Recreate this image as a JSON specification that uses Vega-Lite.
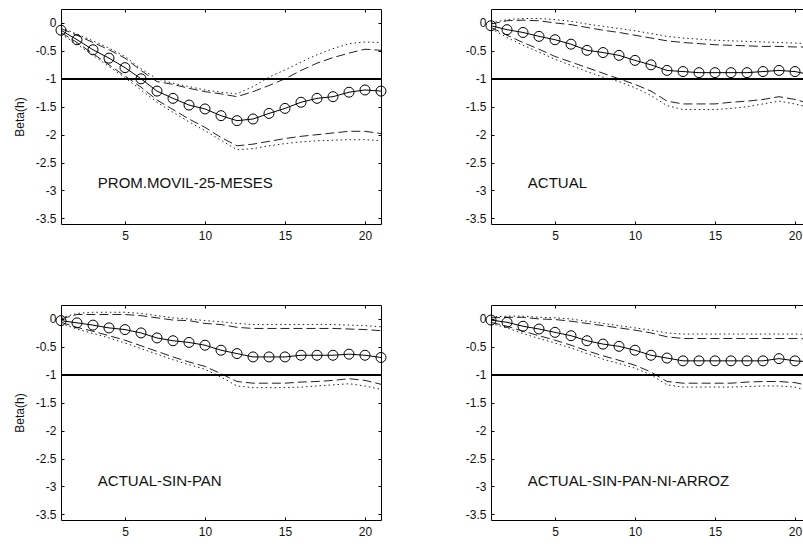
{
"$schema": "https://vega.github.io/schema/vega-lite/v6.json",
"background": "white",
"padding": {"left": 12, "top": 8, "right": 0, "bottom": 0},
"datasets": {"d": [
{"p":"PROM.MOVIL-25-MESES","h":1,"b":-0.13,"hi":-0.10,"hi2":-0.08,"lo":-0.17,"lo2":-0.20},
{"p":"PROM.MOVIL-25-MESES","h":2,"b":-0.30,"hi":-0.22,"hi2":-0.20,"lo":-0.35,"lo2":-0.38},
{"p":"PROM.MOVIL-25-MESES","h":3,"b":-0.48,"hi":-0.35,"hi2":-0.32,"lo":-0.55,"lo2":-0.58},
{"p":"PROM.MOVIL-25-MESES","h":4,"b":-0.63,"hi":-0.48,"hi2":-0.45,"lo":-0.75,"lo2":-0.78},
{"p":"PROM.MOVIL-25-MESES","h":5,"b":-0.80,"hi":-0.63,"hi2":-0.60,"lo":-0.95,"lo2":-0.98},
{"p":"PROM.MOVIL-25-MESES","h":6,"b":-1.00,"hi":-0.85,"hi2":-0.82,"lo":-1.15,"lo2":-1.20},
{"p":"PROM.MOVIL-25-MESES","h":7,"b":-1.22,"hi":-1.05,"hi2":-1.00,"lo":-1.38,"lo2":-1.42},
{"p":"PROM.MOVIL-25-MESES","h":8,"b":-1.35,"hi":-1.10,"hi2":-1.08,"lo":-1.55,"lo2":-1.60},
{"p":"PROM.MOVIL-25-MESES","h":9,"b":-1.47,"hi":-1.17,"hi2":-1.14,"lo":-1.72,"lo2":-1.77},
{"p":"PROM.MOVIL-25-MESES","h":10,"b":-1.54,"hi":-1.23,"hi2":-1.20,"lo":-1.87,"lo2":-1.93},
{"p":"PROM.MOVIL-25-MESES","h":11,"b":-1.66,"hi":-1.27,"hi2":-1.24,"lo":-2.05,"lo2":-2.10},
{"p":"PROM.MOVIL-25-MESES","h":12,"b":-1.75,"hi":-1.32,"hi2":-1.27,"lo":-2.20,"lo2":-2.27},
{"p":"PROM.MOVIL-25-MESES","h":13,"b":-1.72,"hi":-1.23,"hi2":-1.14,"lo":-2.17,"lo2":-2.25},
{"p":"PROM.MOVIL-25-MESES","h":14,"b":-1.62,"hi":-1.12,"hi2":-0.97,"lo":-2.12,"lo2":-2.20},
{"p":"PROM.MOVIL-25-MESES","h":15,"b":-1.53,"hi":-1.00,"hi2":-0.84,"lo":-2.07,"lo2":-2.16},
{"p":"PROM.MOVIL-25-MESES","h":16,"b":-1.42,"hi":-0.85,"hi2":-0.70,"lo":-2.03,"lo2":-2.13},
{"p":"PROM.MOVIL-25-MESES","h":17,"b":-1.35,"hi":-0.72,"hi2":-0.57,"lo":-2.00,"lo2":-2.11},
{"p":"PROM.MOVIL-25-MESES","h":18,"b":-1.32,"hi":-0.62,"hi2":-0.46,"lo":-1.97,"lo2":-2.10},
{"p":"PROM.MOVIL-25-MESES","h":19,"b":-1.24,"hi":-0.54,"hi2":-0.37,"lo":-1.94,"lo2":-2.09},
{"p":"PROM.MOVIL-25-MESES","h":20,"b":-1.20,"hi":-0.47,"hi2":-0.34,"lo":-1.94,"lo2":-2.09},
{"p":"PROM.MOVIL-25-MESES","h":21,"b":-1.22,"hi":-0.49,"hi2":-0.35,"lo":-1.98,"lo2":-2.11},
{"p":"ACTUAL","h":1,"b":-0.05,"hi":-0.02,"hi2":0.00,"lo":-0.08,"lo2":-0.10},
{"p":"ACTUAL","h":2,"b":-0.12,"hi":0.04,"hi2":0.06,"lo":-0.22,"lo2":-0.26},
{"p":"ACTUAL","h":3,"b":-0.17,"hi":0.05,"hi2":0.08,"lo":-0.35,"lo2":-0.40},
{"p":"ACTUAL","h":4,"b":-0.24,"hi":0.04,"hi2":0.08,"lo":-0.47,"lo2":-0.52},
{"p":"ACTUAL","h":5,"b":-0.30,"hi":0.00,"hi2":0.06,"lo":-0.60,"lo2":-0.65},
{"p":"ACTUAL","h":6,"b":-0.38,"hi":-0.03,"hi2":0.03,"lo":-0.70,"lo2":-0.76},
{"p":"ACTUAL","h":7,"b":-0.49,"hi":-0.08,"hi2":-0.02,"lo":-0.80,"lo2":-0.87},
{"p":"ACTUAL","h":8,"b":-0.53,"hi":-0.13,"hi2":-0.06,"lo":-0.90,"lo2":-0.97},
{"p":"ACTUAL","h":9,"b":-0.58,"hi":-0.17,"hi2":-0.10,"lo":-1.00,"lo2":-1.05},
{"p":"ACTUAL","h":10,"b":-0.67,"hi":-0.22,"hi2":-0.14,"lo":-1.10,"lo2":-1.16},
{"p":"ACTUAL","h":11,"b":-0.75,"hi":-0.27,"hi2":-0.19,"lo":-1.22,"lo2":-1.30},
{"p":"ACTUAL","h":12,"b":-0.85,"hi":-0.32,"hi2":-0.24,"lo":-1.40,"lo2":-1.48},
{"p":"ACTUAL","h":13,"b":-0.87,"hi":-0.35,"hi2":-0.27,"lo":-1.45,"lo2":-1.55},
{"p":"ACTUAL","h":14,"b":-0.89,"hi":-0.37,"hi2":-0.29,"lo":-1.45,"lo2":-1.55},
{"p":"ACTUAL","h":15,"b":-0.89,"hi":-0.39,"hi2":-0.31,"lo":-1.45,"lo2":-1.55},
{"p":"ACTUAL","h":16,"b":-0.89,"hi":-0.40,"hi2":-0.32,"lo":-1.42,"lo2":-1.53},
{"p":"ACTUAL","h":17,"b":-0.89,"hi":-0.41,"hi2":-0.33,"lo":-1.40,"lo2":-1.50},
{"p":"ACTUAL","h":18,"b":-0.87,"hi":-0.42,"hi2":-0.34,"lo":-1.37,"lo2":-1.45},
{"p":"ACTUAL","h":19,"b":-0.85,"hi":-0.42,"hi2":-0.35,"lo":-1.32,"lo2":-1.40},
{"p":"ACTUAL","h":20,"b":-0.87,"hi":-0.43,"hi2":-0.36,"lo":-1.37,"lo2":-1.45},
{"p":"ACTUAL","h":21,"b":-0.93,"hi":-0.43,"hi2":-0.37,"lo":-1.45,"lo2":-1.52},
{"p":"ACTUAL-SIN-PAN","h":1,"b":-0.03,"hi":0.00,"hi2":0.02,"lo":-0.06,"lo2":-0.08},
{"p":"ACTUAL-SIN-PAN","h":2,"b":-0.07,"hi":0.08,"hi2":0.10,"lo":-0.15,"lo2":-0.18},
{"p":"ACTUAL-SIN-PAN","h":3,"b":-0.11,"hi":0.08,"hi2":0.12,"lo":-0.22,"lo2":-0.26},
{"p":"ACTUAL-SIN-PAN","h":4,"b":-0.16,"hi":0.08,"hi2":0.12,"lo":-0.30,"lo2":-0.34},
{"p":"ACTUAL-SIN-PAN","h":5,"b":-0.19,"hi":0.08,"hi2":0.12,"lo":-0.38,"lo2":-0.43},
{"p":"ACTUAL-SIN-PAN","h":6,"b":-0.25,"hi":0.06,"hi2":0.10,"lo":-0.48,"lo2":-0.53},
{"p":"ACTUAL-SIN-PAN","h":7,"b":-0.34,"hi":0.02,"hi2":0.06,"lo":-0.58,"lo2":-0.63},
{"p":"ACTUAL-SIN-PAN","h":8,"b":-0.39,"hi":-0.02,"hi2":0.02,"lo":-0.68,"lo2":-0.73},
{"p":"ACTUAL-SIN-PAN","h":9,"b":-0.42,"hi":-0.03,"hi2":0.00,"lo":-0.77,"lo2":-0.82},
{"p":"ACTUAL-SIN-PAN","h":10,"b":-0.47,"hi":-0.08,"hi2":-0.03,"lo":-0.85,"lo2":-0.90},
{"p":"ACTUAL-SIN-PAN","h":11,"b":-0.56,"hi":-0.10,"hi2":-0.05,"lo":-0.98,"lo2":-1.04},
{"p":"ACTUAL-SIN-PAN","h":12,"b":-0.62,"hi":-0.15,"hi2":-0.08,"lo":-1.12,"lo2":-1.20},
{"p":"ACTUAL-SIN-PAN","h":13,"b":-0.68,"hi":-0.17,"hi2":-0.10,"lo":-1.15,"lo2":-1.23},
{"p":"ACTUAL-SIN-PAN","h":14,"b":-0.68,"hi":-0.17,"hi2":-0.10,"lo":-1.15,"lo2":-1.23},
{"p":"ACTUAL-SIN-PAN","h":15,"b":-0.68,"hi":-0.17,"hi2":-0.10,"lo":-1.15,"lo2":-1.23},
{"p":"ACTUAL-SIN-PAN","h":16,"b":-0.65,"hi":-0.17,"hi2":-0.10,"lo":-1.13,"lo2":-1.22},
{"p":"ACTUAL-SIN-PAN","h":17,"b":-0.65,"hi":-0.17,"hi2":-0.10,"lo":-1.12,"lo2":-1.20},
{"p":"ACTUAL-SIN-PAN","h":18,"b":-0.65,"hi":-0.17,"hi2":-0.10,"lo":-1.10,"lo2":-1.18},
{"p":"ACTUAL-SIN-PAN","h":19,"b":-0.63,"hi":-0.18,"hi2":-0.11,"lo":-1.07,"lo2":-1.16},
{"p":"ACTUAL-SIN-PAN","h":20,"b":-0.65,"hi":-0.19,"hi2":-0.12,"lo":-1.10,"lo2":-1.20},
{"p":"ACTUAL-SIN-PAN","h":21,"b":-0.69,"hi":-0.21,"hi2":-0.14,"lo":-1.17,"lo2":-1.26},
{"p":"ACTUAL-SIN-PAN-NI-ARROZ","h":1,"b":-0.02,"hi":0.02,"hi2":0.04,"lo":-0.06,"lo2":-0.08},
{"p":"ACTUAL-SIN-PAN-NI-ARROZ","h":2,"b":-0.06,"hi":0.03,"hi2":0.05,"lo":-0.13,"lo2":-0.16},
{"p":"ACTUAL-SIN-PAN-NI-ARROZ","h":3,"b":-0.13,"hi":0.03,"hi2":0.05,"lo":-0.22,"lo2":-0.26},
{"p":"ACTUAL-SIN-PAN-NI-ARROZ","h":4,"b":-0.18,"hi":0.00,"hi2":0.03,"lo":-0.30,"lo2":-0.35},
{"p":"ACTUAL-SIN-PAN-NI-ARROZ","h":5,"b":-0.24,"hi":-0.01,"hi2":0.02,"lo":-0.38,"lo2":-0.43},
{"p":"ACTUAL-SIN-PAN-NI-ARROZ","h":6,"b":-0.30,"hi":-0.04,"hi2":0.00,"lo":-0.47,"lo2":-0.52},
{"p":"ACTUAL-SIN-PAN-NI-ARROZ","h":7,"b":-0.39,"hi":-0.08,"hi2":-0.04,"lo":-0.57,"lo2":-0.62},
{"p":"ACTUAL-SIN-PAN-NI-ARROZ","h":8,"b":-0.45,"hi":-0.12,"hi2":-0.08,"lo":-0.66,"lo2":-0.72},
{"p":"ACTUAL-SIN-PAN-NI-ARROZ","h":9,"b":-0.49,"hi":-0.16,"hi2":-0.12,"lo":-0.74,"lo2":-0.80},
{"p":"ACTUAL-SIN-PAN-NI-ARROZ","h":10,"b":-0.56,"hi":-0.20,"hi2":-0.16,"lo":-0.83,"lo2":-0.88},
{"p":"ACTUAL-SIN-PAN-NI-ARROZ","h":11,"b":-0.65,"hi":-0.25,"hi2":-0.20,"lo":-0.95,"lo2":-1.00},
{"p":"ACTUAL-SIN-PAN-NI-ARROZ","h":12,"b":-0.70,"hi":-0.32,"hi2":-0.25,"lo":-1.12,"lo2":-1.18},
{"p":"ACTUAL-SIN-PAN-NI-ARROZ","h":13,"b":-0.75,"hi":-0.35,"hi2":-0.27,"lo":-1.15,"lo2":-1.22},
{"p":"ACTUAL-SIN-PAN-NI-ARROZ","h":14,"b":-0.75,"hi":-0.35,"hi2":-0.27,"lo":-1.15,"lo2":-1.22},
{"p":"ACTUAL-SIN-PAN-NI-ARROZ","h":15,"b":-0.75,"hi":-0.35,"hi2":-0.27,"lo":-1.15,"lo2":-1.22},
{"p":"ACTUAL-SIN-PAN-NI-ARROZ","h":16,"b":-0.75,"hi":-0.35,"hi2":-0.27,"lo":-1.15,"lo2":-1.22},
{"p":"ACTUAL-SIN-PAN-NI-ARROZ","h":17,"b":-0.75,"hi":-0.35,"hi2":-0.27,"lo":-1.13,"lo2":-1.21},
{"p":"ACTUAL-SIN-PAN-NI-ARROZ","h":18,"b":-0.75,"hi":-0.35,"hi2":-0.27,"lo":-1.12,"lo2":-1.20},
{"p":"ACTUAL-SIN-PAN-NI-ARROZ","h":19,"b":-0.71,"hi":-0.35,"hi2":-0.27,"lo":-1.12,"lo2":-1.20},
{"p":"ACTUAL-SIN-PAN-NI-ARROZ","h":20,"b":-0.75,"hi":-0.35,"hi2":-0.27,"lo":-1.14,"lo2":-1.22},
{"p":"ACTUAL-SIN-PAN-NI-ARROZ","h":21,"b":-0.77,"hi":-0.36,"hi2":-0.28,"lo":-1.20,"lo2":-1.30}
]},
"spacing": 62,
"vconcat": [
{"spacing": 75, "hconcat": [
{"width": 320, "height": 215, "data": {"name": "d"}, "transform": [{"filter": {"field": "p", "equal": "PROM.MOVIL-25-MESES"}}],
 "layer": [
  {"mark": {"type": "line", "stroke": "#222", "strokeWidth": 1, "strokeDash": [1.5, 3]}, "encoding": {"x": {"field": "h", "type": "quantitative", "scale": {"domain": [1, 21], "nice": false, "zero": false}, "axis": {"orient": "top", "values": [5, 10, 15, 20], "labels": false, "tickSize": -3, "title": null}}, "y": {"field": "hi2", "type": "quantitative", "scale": {"domain": [-3.6, 0.25], "nice": false, "zero": false}, "axis": {"orient": "right", "values": [0, -0.5, -1, -1.5, -2, -2.5, -3, -3.5], "labels": false, "tickSize": -3, "title": null}}}},
  {"mark": {"type": "line", "stroke": "#222", "strokeWidth": 1, "strokeDash": [1.5, 3]}, "encoding": {"x": {"field": "h", "type": "quantitative", "scale": {"domain": [1, 21], "nice": false, "zero": false}, "axis": null}, "y": {"field": "lo2", "type": "quantitative", "scale": {"domain": [-3.6, 0.25], "nice": false, "zero": false}, "axis": null}}},
  {"mark": {"type": "line", "stroke": "#222", "strokeWidth": 1, "strokeDash": [9, 4]}, "encoding": {"x": {"field": "h", "type": "quantitative", "scale": {"domain": [1, 21], "nice": false, "zero": false}, "axis": null}, "y": {"field": "hi", "type": "quantitative", "scale": {"domain": [-3.6, 0.25], "nice": false, "zero": false}, "axis": null}}},
  {"mark": {"type": "line", "stroke": "#222", "strokeWidth": 1, "strokeDash": [9, 4]}, "encoding": {"x": {"field": "h", "type": "quantitative", "scale": {"domain": [1, 21], "nice": false, "zero": false}, "axis": null}, "y": {"field": "lo", "type": "quantitative", "scale": {"domain": [-3.6, 0.25], "nice": false, "zero": false}, "axis": null}}},
  {"mark": {"type": "rule", "stroke": "black", "strokeWidth": 1}, "encoding": {"y": {"datum": -1, "type": "quantitative", "scale": {"domain": [-3.6, 0.25], "nice": false, "zero": false}, "axis": null}}},
  {"mark": {"type": "line", "stroke": "black", "strokeWidth": 1}, "encoding": {"x": {"field": "h", "type": "quantitative", "scale": {"domain": [1, 21], "nice": false, "zero": false}, "axis": {"orient": "bottom", "values": [5, 10, 15, 20], "tickSize": -3, "labelPadding": 9, "title": null}}, "y": {"field": "b", "type": "quantitative", "scale": {"domain": [-3.6, 0.25], "nice": false, "zero": false}, "axis": {"orient": "left", "values": [0, -0.5, -1, -1.5, -2, -2.5, -3, -3.5], "labelExpr": "'' + datum.value", "tickSize": -3, "labelPadding": 8, "title": "Beta(h)", "titlePadding": 9}}}},
  {"mark": {"type": "point", "shape": "circle", "filled": false, "stroke": "black", "strokeWidth": 1, "size": 100, "opacity": 1}, "encoding": {"x": {"field": "h", "type": "quantitative", "scale": {"domain": [1, 21], "nice": false, "zero": false}, "axis": null}, "y": {"field": "b", "type": "quantitative", "scale": {"domain": [-3.6, 0.25], "nice": false, "zero": false}, "axis": null}}},
  {"transform": [{"filter": "datum.h == 1"}], "mark": {"type": "text", "align": "left", "baseline": "middle", "fontSize": 15, "font": "Liberation Sans", "color": "#111"}, "encoding": {"x": {"datum": 3.3, "type": "quantitative", "scale": {"domain": [1, 21], "nice": false, "zero": false}, "axis": null}, "y": {"datum": -2.87, "type": "quantitative", "scale": {"domain": [-3.6, 0.25], "nice": false, "zero": false}, "axis": null}, "text": {"field": "p"}}}
 ],
 "resolve": {"axis": {"x": "independent", "y": "independent"}}},
{"width": 320, "height": 215, "data": {"name": "d"}, "transform": [{"filter": {"field": "p", "equal": "ACTUAL"}}],
 "layer": [
  {"mark": {"type": "line", "stroke": "#222", "strokeWidth": 1, "strokeDash": [1.5, 3]}, "encoding": {"x": {"field": "h", "type": "quantitative", "scale": {"domain": [1, 21], "nice": false, "zero": false}, "axis": {"orient": "top", "values": [5, 10, 15, 20], "labels": false, "tickSize": -3, "title": null}}, "y": {"field": "hi2", "type": "quantitative", "scale": {"domain": [-3.6, 0.25], "nice": false, "zero": false}, "axis": {"orient": "right", "values": [0, -0.5, -1, -1.5, -2, -2.5, -3, -3.5], "labels": false, "tickSize": -3, "title": null}}}},
  {"mark": {"type": "line", "stroke": "#222", "strokeWidth": 1, "strokeDash": [1.5, 3]}, "encoding": {"x": {"field": "h", "type": "quantitative", "scale": {"domain": [1, 21], "nice": false, "zero": false}, "axis": null}, "y": {"field": "lo2", "type": "quantitative", "scale": {"domain": [-3.6, 0.25], "nice": false, "zero": false}, "axis": null}}},
  {"mark": {"type": "line", "stroke": "#222", "strokeWidth": 1, "strokeDash": [9, 4]}, "encoding": {"x": {"field": "h", "type": "quantitative", "scale": {"domain": [1, 21], "nice": false, "zero": false}, "axis": null}, "y": {"field": "hi", "type": "quantitative", "scale": {"domain": [-3.6, 0.25], "nice": false, "zero": false}, "axis": null}}},
  {"mark": {"type": "line", "stroke": "#222", "strokeWidth": 1, "strokeDash": [9, 4]}, "encoding": {"x": {"field": "h", "type": "quantitative", "scale": {"domain": [1, 21], "nice": false, "zero": false}, "axis": null}, "y": {"field": "lo", "type": "quantitative", "scale": {"domain": [-3.6, 0.25], "nice": false, "zero": false}, "axis": null}}},
  {"mark": {"type": "rule", "stroke": "black", "strokeWidth": 1}, "encoding": {"y": {"datum": -1, "type": "quantitative", "scale": {"domain": [-3.6, 0.25], "nice": false, "zero": false}, "axis": null}}},
  {"mark": {"type": "line", "stroke": "black", "strokeWidth": 1}, "encoding": {"x": {"field": "h", "type": "quantitative", "scale": {"domain": [1, 21], "nice": false, "zero": false}, "axis": {"orient": "bottom", "values": [5, 10, 15, 20], "tickSize": -3, "labelPadding": 9, "title": null}}, "y": {"field": "b", "type": "quantitative", "scale": {"domain": [-3.6, 0.25], "nice": false, "zero": false}, "axis": {"orient": "left", "values": [0, -0.5, -1, -1.5, -2, -2.5, -3, -3.5], "labelExpr": "'' + datum.value", "tickSize": -3, "labelPadding": 8, "title": null}}}},
  {"mark": {"type": "point", "shape": "circle", "filled": false, "stroke": "black", "strokeWidth": 1, "size": 100, "opacity": 1}, "encoding": {"x": {"field": "h", "type": "quantitative", "scale": {"domain": [1, 21], "nice": false, "zero": false}, "axis": null}, "y": {"field": "b", "type": "quantitative", "scale": {"domain": [-3.6, 0.25], "nice": false, "zero": false}, "axis": null}}},
  {"transform": [{"filter": "datum.h == 1"}], "mark": {"type": "text", "align": "left", "baseline": "middle", "fontSize": 15, "font": "Liberation Sans", "color": "#111"}, "encoding": {"x": {"datum": 3.3, "type": "quantitative", "scale": {"domain": [1, 21], "nice": false, "zero": false}, "axis": null}, "y": {"datum": -2.87, "type": "quantitative", "scale": {"domain": [-3.6, 0.25], "nice": false, "zero": false}, "axis": null}, "text": {"field": "p"}}}
 ],
 "resolve": {"axis": {"x": "independent", "y": "independent"}}}
]},
{"spacing": 75, "hconcat": [
{"width": 320, "height": 215, "data": {"name": "d"}, "transform": [{"filter": {"field": "p", "equal": "ACTUAL-SIN-PAN"}}],
 "layer": [
  {"mark": {"type": "line", "stroke": "#222", "strokeWidth": 1, "strokeDash": [1.5, 3]}, "encoding": {"x": {"field": "h", "type": "quantitative", "scale": {"domain": [1, 21], "nice": false, "zero": false}, "axis": {"orient": "top", "values": [5, 10, 15, 20], "labels": false, "tickSize": -3, "title": null}}, "y": {"field": "hi2", "type": "quantitative", "scale": {"domain": [-3.6, 0.25], "nice": false, "zero": false}, "axis": {"orient": "right", "values": [0, -0.5, -1, -1.5, -2, -2.5, -3, -3.5], "labels": false, "tickSize": -3, "title": null}}}},
  {"mark": {"type": "line", "stroke": "#222", "strokeWidth": 1, "strokeDash": [1.5, 3]}, "encoding": {"x": {"field": "h", "type": "quantitative", "scale": {"domain": [1, 21], "nice": false, "zero": false}, "axis": null}, "y": {"field": "lo2", "type": "quantitative", "scale": {"domain": [-3.6, 0.25], "nice": false, "zero": false}, "axis": null}}},
  {"mark": {"type": "line", "stroke": "#222", "strokeWidth": 1, "strokeDash": [9, 4]}, "encoding": {"x": {"field": "h", "type": "quantitative", "scale": {"domain": [1, 21], "nice": false, "zero": false}, "axis": null}, "y": {"field": "hi", "type": "quantitative", "scale": {"domain": [-3.6, 0.25], "nice": false, "zero": false}, "axis": null}}},
  {"mark": {"type": "line", "stroke": "#222", "strokeWidth": 1, "strokeDash": [9, 4]}, "encoding": {"x": {"field": "h", "type": "quantitative", "scale": {"domain": [1, 21], "nice": false, "zero": false}, "axis": null}, "y": {"field": "lo", "type": "quantitative", "scale": {"domain": [-3.6, 0.25], "nice": false, "zero": false}, "axis": null}}},
  {"mark": {"type": "rule", "stroke": "black", "strokeWidth": 1}, "encoding": {"y": {"datum": -1, "type": "quantitative", "scale": {"domain": [-3.6, 0.25], "nice": false, "zero": false}, "axis": null}}},
  {"mark": {"type": "line", "stroke": "black", "strokeWidth": 1}, "encoding": {"x": {"field": "h", "type": "quantitative", "scale": {"domain": [1, 21], "nice": false, "zero": false}, "axis": {"orient": "bottom", "values": [5, 10, 15, 20], "tickSize": -3, "labelPadding": 9, "title": null}}, "y": {"field": "b", "type": "quantitative", "scale": {"domain": [-3.6, 0.25], "nice": false, "zero": false}, "axis": {"orient": "left", "values": [0, -0.5, -1, -1.5, -2, -2.5, -3, -3.5], "labelExpr": "'' + datum.value", "tickSize": -3, "labelPadding": 8, "title": "Beta(h)", "titlePadding": 9}}}},
  {"mark": {"type": "point", "shape": "circle", "filled": false, "stroke": "black", "strokeWidth": 1, "size": 100, "opacity": 1}, "encoding": {"x": {"field": "h", "type": "quantitative", "scale": {"domain": [1, 21], "nice": false, "zero": false}, "axis": null}, "y": {"field": "b", "type": "quantitative", "scale": {"domain": [-3.6, 0.25], "nice": false, "zero": false}, "axis": null}}},
  {"transform": [{"filter": "datum.h == 1"}], "mark": {"type": "text", "align": "left", "baseline": "middle", "fontSize": 15, "font": "Liberation Sans", "color": "#111"}, "encoding": {"x": {"datum": 3.3, "type": "quantitative", "scale": {"domain": [1, 21], "nice": false, "zero": false}, "axis": null}, "y": {"datum": -2.9, "type": "quantitative", "scale": {"domain": [-3.6, 0.25], "nice": false, "zero": false}, "axis": null}, "text": {"field": "p"}}}
 ],
 "resolve": {"axis": {"x": "independent", "y": "independent"}}},
{"width": 320, "height": 215, "data": {"name": "d"}, "transform": [{"filter": {"field": "p", "equal": "ACTUAL-SIN-PAN-NI-ARROZ"}}],
 "layer": [
  {"mark": {"type": "line", "stroke": "#222", "strokeWidth": 1, "strokeDash": [1.5, 3]}, "encoding": {"x": {"field": "h", "type": "quantitative", "scale": {"domain": [1, 21], "nice": false, "zero": false}, "axis": {"orient": "top", "values": [5, 10, 15, 20], "labels": false, "tickSize": -3, "title": null}}, "y": {"field": "hi2", "type": "quantitative", "scale": {"domain": [-3.6, 0.25], "nice": false, "zero": false}, "axis": {"orient": "right", "values": [0, -0.5, -1, -1.5, -2, -2.5, -3, -3.5], "labels": false, "tickSize": -3, "title": null}}}},
  {"mark": {"type": "line", "stroke": "#222", "strokeWidth": 1, "strokeDash": [1.5, 3]}, "encoding": {"x": {"field": "h", "type": "quantitative", "scale": {"domain": [1, 21], "nice": false, "zero": false}, "axis": null}, "y": {"field": "lo2", "type": "quantitative", "scale": {"domain": [-3.6, 0.25], "nice": false, "zero": false}, "axis": null}}},
  {"mark": {"type": "line", "stroke": "#222", "strokeWidth": 1, "strokeDash": [9, 4]}, "encoding": {"x": {"field": "h", "type": "quantitative", "scale": {"domain": [1, 21], "nice": false, "zero": false}, "axis": null}, "y": {"field": "hi", "type": "quantitative", "scale": {"domain": [-3.6, 0.25], "nice": false, "zero": false}, "axis": null}}},
  {"mark": {"type": "line", "stroke": "#222", "strokeWidth": 1, "strokeDash": [9, 4]}, "encoding": {"x": {"field": "h", "type": "quantitative", "scale": {"domain": [1, 21], "nice": false, "zero": false}, "axis": null}, "y": {"field": "lo", "type": "quantitative", "scale": {"domain": [-3.6, 0.25], "nice": false, "zero": false}, "axis": null}}},
  {"mark": {"type": "rule", "stroke": "black", "strokeWidth": 1}, "encoding": {"y": {"datum": -1, "type": "quantitative", "scale": {"domain": [-3.6, 0.25], "nice": false, "zero": false}, "axis": null}}},
  {"mark": {"type": "line", "stroke": "black", "strokeWidth": 1}, "encoding": {"x": {"field": "h", "type": "quantitative", "scale": {"domain": [1, 21], "nice": false, "zero": false}, "axis": {"orient": "bottom", "values": [5, 10, 15, 20], "tickSize": -3, "labelPadding": 9, "title": null}}, "y": {"field": "b", "type": "quantitative", "scale": {"domain": [-3.6, 0.25], "nice": false, "zero": false}, "axis": {"orient": "left", "values": [0, -0.5, -1, -1.5, -2, -2.5, -3, -3.5], "labelExpr": "'' + datum.value", "tickSize": -3, "labelPadding": 8, "title": null}}}},
  {"mark": {"type": "point", "shape": "circle", "filled": false, "stroke": "black", "strokeWidth": 1, "size": 100, "opacity": 1}, "encoding": {"x": {"field": "h", "type": "quantitative", "scale": {"domain": [1, 21], "nice": false, "zero": false}, "axis": null}, "y": {"field": "b", "type": "quantitative", "scale": {"domain": [-3.6, 0.25], "nice": false, "zero": false}, "axis": null}}},
  {"transform": [{"filter": "datum.h == 1"}], "mark": {"type": "text", "align": "left", "baseline": "middle", "fontSize": 15, "font": "Liberation Sans", "color": "#111"}, "encoding": {"x": {"datum": 3.3, "type": "quantitative", "scale": {"domain": [1, 21], "nice": false, "zero": false}, "axis": null}, "y": {"datum": -2.9, "type": "quantitative", "scale": {"domain": [-3.6, 0.25], "nice": false, "zero": false}, "axis": null}, "text": {"field": "p"}}}
 ],
 "resolve": {"axis": {"x": "independent", "y": "independent"}}}
]}
],
"config": {
 "font": "Liberation Sans",
 "view": {"stroke": "black", "strokeWidth": 1},
 "axis": {"labelFont": "Liberation Sans", "labelFontSize": 12, "labelColor": "#111", "titleFont": "Liberation Sans", "titleFontSize": 12, "titleFontWeight": "normal", "titleColor": "#111", "tickColor": "black", "tickWidth": 1, "grid": false, "domain": false}
}
}
